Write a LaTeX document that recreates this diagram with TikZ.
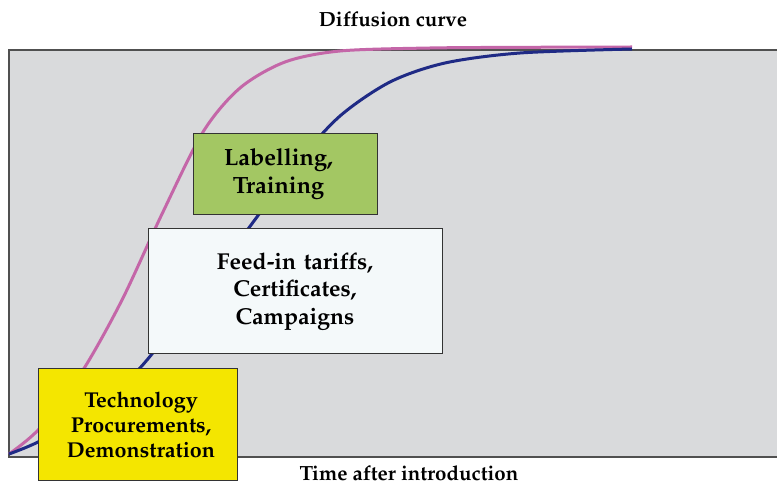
\documentclass[tikz,border=0pt]{standalone}
\usepackage[T1]{fontenc}
\usepackage{mathpazo}
\definecolor{plotbg}{HTML}{D9DADC}
\definecolor{frame}{HTML}{505050}
\definecolor{fastcurve}{HTML}{C466A8}
\definecolor{slowcurve}{HTML}{1F2A85}
\definecolor{yellowbox}{HTML}{F4E600}
\definecolor{greenbox}{HTML}{A3C763}
\definecolor{palebox}{HTML}{F4F9FA}
\tikzset{
  curveline/.style={line width=3pt, line join=round},
  measure/.style={draw=black!80, line width=1pt, align=center, font=\bfseries, inner sep=0pt},
  caption/.style={font=\bfseries\fontsize{20.5}{24}\selectfont, inner sep=0pt}
}
\begin{document}
\begin{tikzpicture}[x=1pt,y=-1pt]
\useasboundingbox (0,0) rectangle (777,486);
\fill[white] (0,0) rectangle (777,486);
% plot area
\draw[fill=plotbg, draw=frame, line width=1.2pt] (9,50) rectangle (790,457);
\node[caption] (title) at (393,19) {Diffusion curve};
\node[caption] (xlabel) at (409,473) {Time after introduction};
% fast adoption curve
\draw[curveline, fastcurve] plot[smooth, tension=0.5] coordinates {
  (9,454) (40,428) (83,370) (122,300) (162,214) (203,132)
  (240,88) (285,62) (340,51) (430,48) (530,47.3) (632,47)};
% slow adoption curve
\draw[curveline, slowcurve] plot[smooth, tension=0.5] coordinates {
  (9,454) (40,441) (90,411) (140,368) (195,298) (248,229)
  (298,162) (340,116) (390,82) (445,63) (520,53) (632,49)};
% instrument boxes
\node[measure, fill=greenbox, minimum width=184, minimum height=81, text width=184,
      font=\bfseries\fontsize{23.5}{28}\selectfont] (label) at (285,174) {\hspace*{-13pt}Labelling,\\\hspace*{-13pt}Training};
\node[measure, fill=palebox, minimum width=294, minimum height=125, text width=294,
      font=\bfseries\fontsize{23}{27.5}\selectfont] (tariff) at (295,291.5) {Feed-in tariffs,\\Certificates,\\Campaigns};
\node[measure, fill=yellowbox, minimum width=199, minimum height=111, text width=199,
      font=\bfseries\fontsize{21.5}{25}\selectfont] (procure) at (137.5,424.5) {\hspace*{7pt}Technology\\\hspace*{7pt}Procurements,\\\hspace*{7pt}Demonstration};
\end{tikzpicture}
\end{document}
